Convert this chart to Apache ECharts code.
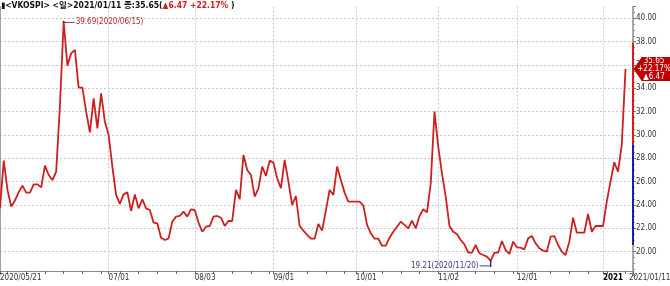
<!DOCTYPE html>
<html>
<head>
<meta charset="utf-8">
<script src="https://cdn.jsdelivr.net/npm/echarts@6/dist/echarts.min.js"></script>
<style>
html,body{margin:0;padding:0;background:#fff;}
#chart{width:670px;height:286px;}
</style>
</head>
<body>
<div id="chart"></div>
<script>
const dates = [
'2020/05/21','2020/05/22','2020/05/25','2020/05/26','2020/05/27','2020/05/28','2020/05/29',
'2020/06/01','2020/06/02','2020/06/03','2020/06/04','2020/06/05','2020/06/08','2020/06/09','2020/06/10','2020/06/11','2020/06/12',
'2020/06/15','2020/06/16','2020/06/17','2020/06/18','2020/06/19','2020/06/22','2020/06/23','2020/06/24','2020/06/25','2020/06/26','2020/06/29','2020/06/30',
'2020/07/01','2020/07/02','2020/07/03','2020/07/06','2020/07/07','2020/07/08','2020/07/09','2020/07/10','2020/07/13','2020/07/14','2020/07/15','2020/07/16','2020/07/17',
'2020/07/20','2020/07/21','2020/07/22','2020/07/23','2020/07/24','2020/07/27','2020/07/28','2020/07/29','2020/07/30','2020/07/31',
'2020/08/03','2020/08/04','2020/08/05','2020/08/06','2020/08/07','2020/08/10','2020/08/11','2020/08/12','2020/08/13','2020/08/14','2020/08/17','2020/08/18','2020/08/19','2020/08/20','2020/08/21',
'2020/08/24','2020/08/25','2020/08/26','2020/08/27','2020/08/28','2020/08/31',
'2020/09/01','2020/09/02','2020/09/03','2020/09/04','2020/09/07','2020/09/08','2020/09/09','2020/09/10','2020/09/11','2020/09/14','2020/09/15','2020/09/16','2020/09/17','2020/09/18',
'2020/09/21','2020/09/22','2020/09/23','2020/09/24','2020/09/25','2020/09/28','2020/09/29','2020/09/30',
'2020/10/01','2020/10/02','2020/10/05','2020/10/06','2020/10/07','2020/10/08','2020/10/09','2020/10/12','2020/10/13','2020/10/14','2020/10/15','2020/10/16',
'2020/10/19','2020/10/20','2020/10/21','2020/10/22','2020/10/23','2020/10/26','2020/10/27','2020/10/28','2020/10/29','2020/10/30',
'2020/11/02','2020/11/03','2020/11/04','2020/11/05','2020/11/06','2020/11/09','2020/11/10','2020/11/11','2020/11/12','2020/11/13','2020/11/16','2020/11/17','2020/11/18','2020/11/19','2020/11/20',
'2020/11/23','2020/11/24','2020/11/25','2020/11/26','2020/11/27','2020/11/30',
'2020/12/01','2020/12/02','2020/12/03','2020/12/04','2020/12/07','2020/12/08','2020/12/09','2020/12/10','2020/12/11','2020/12/14','2020/12/15','2020/12/16','2020/12/17','2020/12/18',
'2020/12/21','2020/12/22','2020/12/23','2020/12/24','2020/12/25','2020/12/28','2020/12/29','2020/12/30','2020/12/31',
'2021/01/01','2021/01/04','2021/01/05','2021/01/06','2021/01/07','2021/01/08','2021/01/11'
];

const vkospi = [
23.71,27.80,25.29,23.86,24.40,25.10,25.66,25.06,25.06,25.77,
25.77,25.51,27.37,26.57,26.14,26.86,32.50,39.69,35.94,37.00,
37.29,34.06,34.06,32.00,30.23,33.14,30.57,33.57,31.14,30.00,
27.29,24.86,24.09,24.91,25.09,23.49,24.91,23.71,24.49,23.71,
23.57,22.49,22.43,21.20,21.00,21.14,22.57,23.00,23.06,23.43,
23.00,23.63,23.57,22.49,21.71,22.14,22.20,23.00,23.06,22.91,
22.20,22.63,22.63,25.29,24.49,28.29,27.00,26.57,24.71,25.43,
27.29,26.49,27.80,27.63,26.29,25.43,27.86,26.00,24.00,24.77,
22.20,21.80,21.43,21.11,21.11,22.37,21.80,23.51,25.29,24.86,
27.29,26.14,25.06,24.29,24.29,24.29,24.29,23.97,22.29,21.57,
21.11,21.11,20.51,20.51,21.20,21.71,22.14,22.57,22.29,22.00,
22.66,22.00,23.06,23.63,23.37,25.86,32.00,29.00,26.71,24.71,
22.20,21.71,21.51,21.00,20.63,19.91,19.91,20.57,19.86,19.71,
19.57,19.21,19.91,19.91,20.91,20.14,19.80,20.86,20.37,20.34,
20.20,21.14,21.34,20.71,20.29,20.09,20.00,21.29,21.34,20.57,
20.00,19.71,20.86,22.91,21.63,21.63,21.63,23.23,21.71,22.20,
22.20,22.20,24.29,26.00,27.66,26.86,29.14,35.65
];

const tickDates = ['2020/05/21','2020/07/01','2020/08/03','2020/09/01','2020/10/01','2020/11/02','2020/12/01','2021/01/01'];
const tickTexts = ['2020/05/21','07/01','08/03','09/01','10/01','11/02','12/01','2021'];
const lastDateLabel = '2021/01/11';
const yTicks = [20,22,24,26,28,30,32,34,36,38,40];

const lastValue = 35.65;
const change = 6.47;
const changePct = 22.17;
const rangeBar = [37.9, 29.18, 20.57];

const FONT = "'DejaVu Sans Condensed','Liberation Sans Narrow','Noto Sans CJK KR',sans-serif";
const FS = 8;

const cats = dates.concat(['', ' ']);
const edgeIdx = cats.length - 1;
const tickIdx = tickDates.map(d => dates.indexOf(d));
const tickMap = {};
tickIdx.forEach((ix, k) => tickMap[ix] = tickTexts[k]);
function isMonday(i) {
  if (i >= dates.length) return false;
  return new Date(dates[i].replace(/\//g, '-') + 'T00:00:00Z').getUTCDay() === 1;
}

let maxIdx = 0, minIdx = 0;
vkospi.forEach((v, i) => { if (v > vkospi[maxIdx]) maxIdx = i; if (v < vkospi[minIdx]) minIdx = i; });
const maxV = vkospi[maxIdx], minV = vkospi[minIdx];

const chart = echarts.init(document.getElementById('chart'), null, {renderer: 'canvas'});
chart.setOption({
  animation: false,
  backgroundColor: '#ffffff',
  title: {
    left: 1, top: 0, padding: [2, 0],
    text: '{k|\u25AE<VKOSPI> <일>' + dates[dates.length - 1] + ' 종:' + lastValue.toFixed(2) + '(}{r|\u25B2' + change.toFixed(2) + ' +' + changePct.toFixed(2) + '%}{k| )}',
    textStyle: {
      rich: {
        k: {fontSize: 8.5, color: '#111', fontFamily: FONT},
        r: {fontSize: 8.5, color: '#d02020', fontFamily: FONT}
      }
    }
  },
  grid: {left: 0, right: 37, top: 6.63, bottom: 11, containLabel: false, outerBoundsMode: 'none'},
  xAxis: {
    type: 'category',
    data: cats,
    boundaryGap: false,
    offset: -4,
    name: lastDateLabel,
    nameLocation: 'end',
    nameGap: 37,
    nameTextStyle: {align: 'right', verticalAlign: 'top', padding: [3, 0, 0, 0], fontSize: FS, color: '#333', fontFamily: FONT},
    axisLine: {show: true, onZero: false, lineStyle: {color: '#8c8c8c', width: 1}},
    axisTick: {show: true, length: 3, interval: (i) => isMonday(i) || tickMap[i] !== undefined || i === edgeIdx, lineStyle: {color: '#666'}},
    axisLabel: {
      show: true,
      interval: (i) => tickMap[i] !== undefined,
      formatter: (v, i) => {
        const t = tickMap[i];
        if (t === '2021') return '{b|2021}';
        return t || '';
      },
      align: 'left',
      margin: 3,
      fontSize: FS,
      color: '#333',
      fontFamily: FONT,
      hideOverlap: false,
      rich: {b: {fontSize: FS, fontWeight: 'bold', color: '#000', fontFamily: FONT}}
    },
    splitLine: {
      show: true,
      interval: (i) => tickMap[i] !== undefined && i !== 0,
      lineStyle: {color: '#c8c8c8', type: [2, 2], width: 1}
    }
  },
  yAxis: [{
    type: 'value',
    position: 'right',
    min: 18, max: 41, interval: 2,
    axisLine: {show: true, lineStyle: {color: '#a8a8a8', width: 2}},
    axisTick: {show: true, length: 3, lineStyle: {color: '#777'}},
    minorTick: {show: true, splitNumber: 4, length: 2, lineStyle: {color: '#999'}},
    axisLabel: {
      show: true, margin: 3, fontSize: FS, color: '#333', fontFamily: FONT,
      formatter: (v) => yTicks.indexOf(v) >= 0 ? v.toFixed(2) : ''
    },
    splitLine: {show: true, showMinLine: false, showMaxLine: false, lineStyle: {color: '#c8c8c8', type: [2, 2], width: 1}}
  }, {
    type: 'value',
    position: 'left',
    min: 18, max: 41,
    axisLine: {show: true, lineStyle: {color: '#a0a0a0', width: 1}},
    axisTick: {show: false},
    axisLabel: {show: false},
    splitLine: {show: false}
  }],
  series: [{
    type: 'line',
    name: 'VKOSPI',
    data: vkospi,
    yAxisIndex: 0,
    symbol: 'none',
    clip: false,
    lineStyle: {color: '#cc2020', width: 1.8},
    itemStyle: {color: '#cc2020'},
    markLine: {
      silent: true,
      symbol: ['none', 'none'],
      label: {show: false},
      data: [
        [{coord: [edgeIdx, rangeBar[0]], lineStyle: {color: '#e01818', width: 2, type: 'solid'}}, {coord: [edgeIdx, rangeBar[1]]}],
        [{coord: [edgeIdx, rangeBar[1]], lineStyle: {color: '#1c1caa', width: 2, type: 'solid'}}, {coord: [edgeIdx, rangeBar[2]]}]
      ]
    },
    markPoint: {
      silent: true,
      data: [
        {coord: [maxIdx, maxV], symbol: 'rect', symbolSize: [11, 1], symbolOffset: [5.5, 0.5],
         itemStyle: {color: '#b02c2c'},
         label: {show: true, position: 'right', distance: 1, formatter: maxV.toFixed(2) + '(' + dates[maxIdx] + ')', color: '#b02c2c', fontSize: FS, fontFamily: FONT}},
        {coord: [maxIdx, maxV], symbol: 'rect', symbolSize: [2, 2], itemStyle: {color: '#8b1a1a'}, label: {show: false}},
        {coord: [minIdx, minV], symbol: 'rect', symbolSize: [1.5, 6], symbolOffset: [0, 3], itemStyle: {color: '#2a2aa0'}, label: {show: false}},
        {coord: [minIdx, minV], symbol: 'rect', symbolSize: [11, 1], symbolOffset: [-5.5, 5],
         itemStyle: {color: '#3a3a8c'},
         label: {show: true, position: 'left', distance: 1, formatter: minV.toFixed(2) + '(' + dates[minIdx] + ')', color: '#3a3a8c', fontSize: FS, fontFamily: FONT}},
        {coord: [edgeIdx, lastValue], symbol: 'path://M0,12L8,0L36,0L36,24L8,24Z', symbolSize: [37, 24], symbolOffset: [19, 0],
         itemStyle: {color: '#c00000'},
         label: {show: true, position: 'inside', offset: [2, 0], formatter: lastValue.toFixed(2) + '\n+' + changePct.toFixed(2) + '%\n\u25B2' + change.toFixed(2),
                 color: '#fff', fontSize: FS, lineHeight: 8, fontFamily: FONT}}
      ]
    }
  }]
});
</script>
</body>
</html>
